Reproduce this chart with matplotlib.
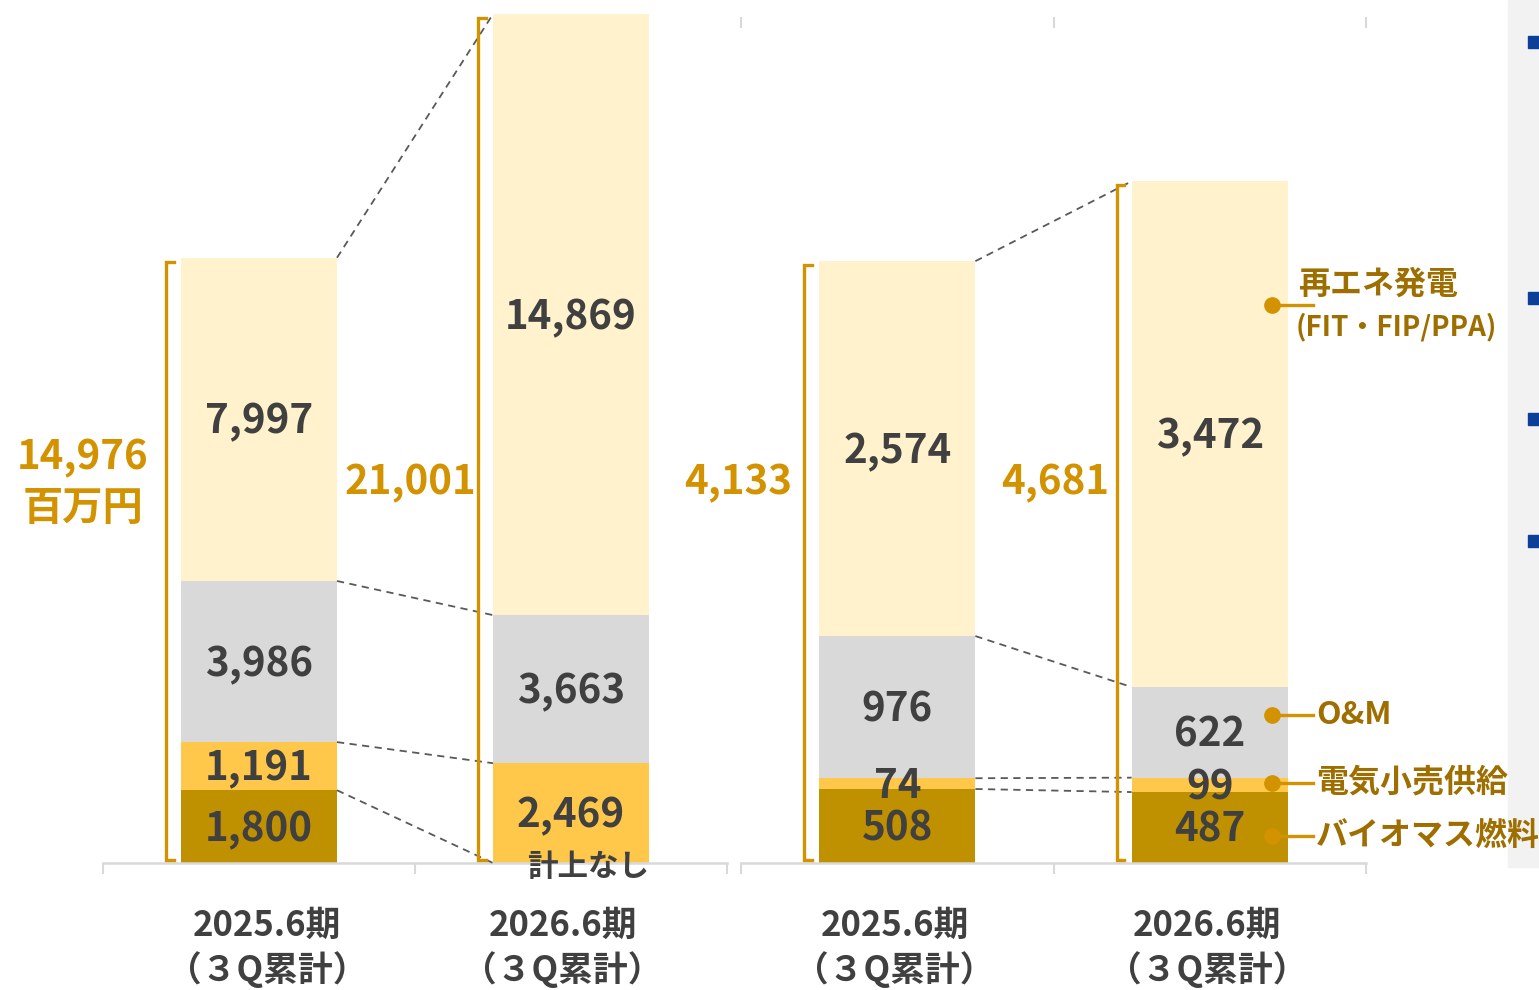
#stacked sales breakdown, two panels

import matplotlib.pyplot as plt
from matplotlib.patches import Rectangle
import numpy as np

plt.rcParams['font.family'] = ['Noto Sans CJK JP', 'DejaVu Sans']
plt.rcParams['font.weight'] = 'bold'

categories = ['2025.6期', '2026.6期']
sub_label = '（３Q累計）'
segment_names = ['バイオマス燃料', '電気小売供給', 'O&M', '再エネ発電']

left_biomass = [1800, 0]
left_retail = [1191, 2469]
left_om = [3986, 3663]
left_renew = [7997, 14869]
left_total = [14976, 21001]

right_biomass = [508, 487]
right_retail = [74, 99]
right_om = [976, 622]
right_renew = [2574, 3472]
right_total = [4133, 4681]

unit = '百万円'
zero_note = '計上なし'

colors = ['#BF9000', '#FFC84A', '#D9D9D9', '#FFF2CC']
text_dark = '#404040'
gold = '#D39200'
legend_text = '#9E6F00'

W, H = 1539, 990
fig = plt.figure(figsize=(W / 100, H / 100), dpi=100)

def fx(x):
    return x / W

def fy(y):
    return 1 - y / H

axL = fig.add_axes([fx(103), fy(863), 624 / W, 863 / H])
axR = fig.add_axes([fx(741), fy(863), 625 / W, 863 / H])
axL.set_ylim(0, 21350)
axR.set_ylim(0, 5925)


def panel(ax, stacks, shifts):
    ax.set_xlim(-0.5, 1.5)
    ax.set_facecolor('none')
    for s in ['left', 'right', 'top']:
        ax.spines[s].set_visible(False)
    ax.spines['bottom'].set_color('#D9D9D9')
    ax.spines['bottom'].set_linewidth(1.8)
    ax.set_yticks([])
    ax.set_xticks([-0.5, 0.5, 1.5])
    ax.set_xticklabels([])
    ax.tick_params(axis='x', length=8, width=1.5, color='#D9D9D9', direction='out')

    x = np.arange(2)
    bottom = np.zeros(2)
    levels = []
    for vals, col in zip(stacks, colors):
        vals = np.array(vals, dtype=float)
        ax.bar(x, vals, 0.5, bottom=bottom, color=col, clip_on=False, zorder=2)
        for i in range(2):
            if vals[i] > 0:
                ax.annotate(f'{int(vals[i]):,}', xy=(x[i], bottom[i] + vals[i] / 2), xytext=(0, -2),
                            textcoords='offset points', ha='center', va='center',
                            fontsize=29, color=text_dark, zorder=4, annotation_clip=False)
        bottom = bottom + vals
        levels.append(bottom.copy())

    # dashed connectors between the bars
    for lv in levels:
        ax.plot([0.25, 0.75], [lv[0], lv[1]], color='#595959', lw=1.3, ls=(0, (4, 3)),
                zorder=3, clip_on=False)

    # brackets
    upp = ax.get_ylim()[1] / 863
    for i in range(2):
        xb = x[i] - 0.25 - 0.048
        top = bottom[i] - 4 * upp
        low = 3 * upp
        ax.plot([xb + 0.025, xb, xb, xb + 0.025], [top, top, low, low], color=gold, lw=2.4,
                solid_joinstyle='miter', clip_on=False, zorder=3)

    for i in range(2):
        ax.annotate(categories[i], xy=(x[i], 0), xytext=(shifts[i], -62 * 0.72), textcoords='offset points',
                    ha='center', va='center', fontsize=25, color=text_dark, annotation_clip=False)
        ax.annotate(sub_label, xy=(x[i], 0), xytext=(shifts[i], -107 * 0.72), textcoords='offset points',
                    ha='center', va='center', fontsize=25, color=text_dark, annotation_clip=False)
    return ax


panel(axL, [left_biomass, left_retail, left_om, left_renew], [6, -6])
panel(axR, [right_biomass, right_retail, right_om, right_renew], [-2, -2])

axL.annotate(zero_note, xy=(1, 0), xytext=(12, -3), textcoords='offset points', ha='center',
             va='center', fontsize=22, color=text_dark, annotation_clip=False, zorder=5)

# small marks at the top of the right panel
axR.vlines([-0.5, 0.5, 1.5], 0.9676, 0.9803, transform=axR.get_xaxis_transform(),
           color='#D9D9D9', lw=1.5, clip_on=False)

# totals
fig.text(fx(83), fy(458), f'{left_total[0]:,}', ha='center', va='center', fontsize=29, color=gold)
fig.text(fx(83), fy(509), unit, ha='center', va='center', fontsize=29, color=gold)
fig.text(fx(410), fy(483), f'{left_total[1]:,}', ha='center', va='center', fontsize=29, color=gold)
fig.text(fx(738), fy(483), f'{right_total[0]:,}', ha='center', va='center', fontsize=29, color=gold)
fig.text(fx(1055), fy(483), f'{right_total[1]:,}', ha='center', va='center', fontsize=29, color=gold)

# legend labels on the right bar
legend_y = [836, 783, 715, 305]
for name, ly in zip(segment_names, legend_y):
    fig.add_artist(plt.Line2D([fx(1272), fx(1313)], [fy(ly), fy(ly)], color=gold, lw=2.4, zorder=4))
    fig.add_artist(plt.Line2D([fx(1272)], [fy(ly)], marker='o', markersize=11, color=gold, zorder=4))
    if name == '再エネ発電':
        fig.text(fx(1298), fy(285), name, ha='left', va='center', fontsize=23, color=legend_text, zorder=5)
        fig.text(fx(1296), fy(327), '(FIT・FIP/PPA)', ha='left', va='center', fontsize=20,
                 color=legend_text, zorder=5)
    else:
        fig.text(fx(1316), fy(ly), name, ha='left', va='center', fontsize=23, color=legend_text, zorder=5)

# grey side panel with blue markers
fig.add_artist(Rectangle((fx(1508), fy(867)), 1 - fx(1508), 867 / H, transform=fig.transFigure,
                         color='#F2F2F2', zorder=-1))
for by in [42, 298, 419, 541]:
    fig.add_artist(Rectangle((fx(1528), fy(by + 6)), 11 / W, 12 / H, transform=fig.transFigure,
                             color='#0B3F98', zorder=1))

plt.savefig('out.png', dpi=100)
